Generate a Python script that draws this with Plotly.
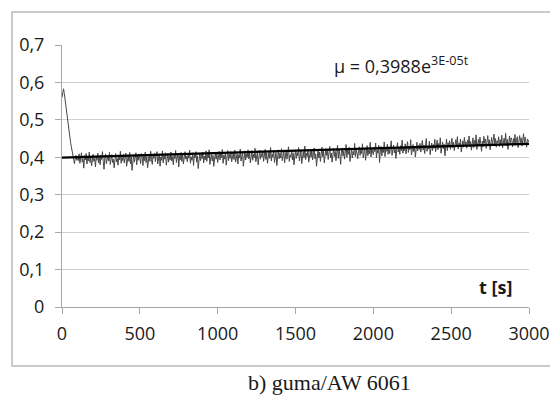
import plotly.graph_objects as go

# measured friction coefficient, one reading every 5 s (0 ... 3000 s)
t_step = 5
mu_values = [
    0.560, 0.578, 0.583, 0.570, 0.552, 0.535, 0.515, 0.500, 0.488, 0.472, 0.455, 0.440, 0.428, 0.415, 0.405, 0.392, 0.383, 0.398, 0.405, 0.392,
    0.402, 0.391, 0.409, 0.384, 0.398, 0.412, 0.387, 0.396, 0.371, 0.405, 0.393, 0.410, 0.382, 0.399, 0.390, 0.414, 0.386, 0.401, 0.377, 0.395,
    0.408, 0.389, 0.397, 0.374, 0.403, 0.392, 0.411, 0.385, 0.400, 0.380, 0.406, 0.394, 0.415, 0.388, 0.368, 0.398, 0.409, 0.383, 0.396, 0.404,
    0.390, 0.413, 0.381, 0.399, 0.407, 0.386, 0.395, 0.372, 0.402, 0.410, 0.388, 0.397, 0.379, 0.405, 0.393, 0.416, 0.384, 0.400, 0.391, 0.408,
    0.385, 0.398, 0.411, 0.376, 0.394, 0.404, 0.389, 0.413, 0.382, 0.401, 0.365, 0.396, 0.407, 0.387, 0.399, 0.412, 0.380, 0.403, 0.392, 0.409,
    0.396, 0.383, 0.410, 0.400, 0.378, 0.405, 0.391, 0.414, 0.386, 0.402, 0.372, 0.398, 0.408, 0.389, 0.416, 0.394, 0.381, 0.406, 0.397, 0.411,
    0.388, 0.403, 0.415, 0.382, 0.399, 0.409, 0.376, 0.401, 0.392, 0.417, 0.385, 0.405, 0.395, 0.412, 0.379, 0.400, 0.410, 0.387, 0.404, 0.393,
    0.414, 0.390, 0.402, 0.380, 0.408, 0.396, 0.418, 0.386, 0.399, 0.411, 0.374, 0.404, 0.393, 0.413, 0.389, 0.406, 0.382, 0.400, 0.415, 0.395,
    0.403, 0.388, 0.410, 0.397, 0.419, 0.384, 0.401, 0.392, 0.412, 0.378, 0.406, 0.398, 0.415, 0.387, 0.404, 0.370, 0.399, 0.411, 0.391, 0.408,
    0.396, 0.414, 0.385, 0.403, 0.393, 0.417, 0.389, 0.407, 0.398, 0.420, 0.381, 0.402, 0.411, 0.390, 0.405, 0.376, 0.400, 0.413, 0.395, 0.409,
    0.386, 0.404, 0.416, 0.393, 0.410, 0.399, 0.421, 0.384, 0.406, 0.395, 0.413, 0.379, 0.402, 0.418, 0.391, 0.408, 0.397, 0.415, 0.388, 0.405,
    0.412, 0.394, 0.419, 0.387, 0.403, 0.410, 0.382, 0.407, 0.398, 0.422, 0.390, 0.405, 0.414, 0.376, 0.401, 0.417, 0.393, 0.409, 0.400, 0.420,
    0.396, 0.411, 0.385, 0.404, 0.418, 0.392, 0.408, 0.399, 0.424, 0.388, 0.406, 0.414, 0.380, 0.402, 0.419, 0.395, 0.410, 0.401, 0.416, 0.389,
    0.407, 0.421, 0.394, 0.412, 0.384, 0.403, 0.417, 0.397, 0.426, 0.390, 0.409, 0.400, 0.418, 0.386, 0.405, 0.413, 0.378, 0.402, 0.420, 0.396,
    0.411, 0.398, 0.423, 0.391, 0.407, 0.416, 0.385, 0.404, 0.419, 0.395, 0.410, 0.428, 0.389, 0.406, 0.401, 0.417, 0.393, 0.412, 0.380, 0.408,
    0.420, 0.397, 0.413, 0.404, 0.426, 0.390, 0.409, 0.418, 0.383, 0.405, 0.415, 0.399, 0.430, 0.394, 0.411, 0.402, 0.422, 0.387, 0.408, 0.416,
    0.400, 0.419, 0.393, 0.412, 0.425, 0.396, 0.409, 0.376, 0.404, 0.421, 0.398, 0.414, 0.389, 0.407, 0.427, 0.401, 0.417, 0.385, 0.410, 0.423,
    0.405, 0.418, 0.394, 0.413, 0.429, 0.399, 0.411, 0.387, 0.408, 0.424, 0.402, 0.416, 0.391, 0.410, 0.432, 0.397, 0.420, 0.406, 0.381, 0.414,
    0.425, 0.403, 0.417, 0.395, 0.412, 0.434, 0.400, 0.419, 0.408, 0.427, 0.389, 0.414, 0.423, 0.398, 0.416, 0.406, 0.437, 0.402, 0.420, 0.411,
    0.396, 0.418, 0.428, 0.405, 0.421, 0.410, 0.436, 0.399, 0.415, 0.425, 0.392, 0.413, 0.431, 0.404, 0.419, 0.409, 0.440, 0.401, 0.423, 0.414,
    0.407, 0.426, 0.415, 0.438, 0.398, 0.420, 0.411, 0.432, 0.386, 0.417, 0.429, 0.404, 0.422, 0.413, 0.441, 0.402, 0.424, 0.416, 0.435, 0.408,
    0.428, 0.410, 0.422, 0.444, 0.405, 0.419, 0.433, 0.412, 0.426, 0.397, 0.421, 0.439, 0.414, 0.427, 0.408, 0.431, 0.417, 0.446, 0.411, 0.424,
    0.418, 0.436, 0.409, 0.425, 0.442, 0.413, 0.429, 0.420, 0.447, 0.406, 0.423, 0.434, 0.415, 0.430, 0.401, 0.427, 0.440, 0.417, 0.432, 0.421,
    0.437, 0.414, 0.428, 0.445, 0.419, 0.433, 0.410, 0.426, 0.450, 0.416, 0.431, 0.422, 0.443, 0.407, 0.429, 0.438, 0.418, 0.434, 0.424, 0.448,
    0.415, 0.432, 0.446, 0.420, 0.437, 0.426, 0.452, 0.411, 0.430, 0.441, 0.423, 0.435, 0.404, 0.428, 0.449, 0.418, 0.439, 0.427, 0.444, 0.421,
    0.436, 0.451, 0.425, 0.440, 0.418, 0.433, 0.447, 0.428, 0.455, 0.422, 0.438, 0.431, 0.449, 0.414, 0.435, 0.444, 0.427, 0.453, 0.432, 0.441,
    0.424, 0.446, 0.434, 0.457, 0.429, 0.442, 0.419, 0.437, 0.452, 0.426, 0.445, 0.433, 0.460, 0.421, 0.439, 0.448, 0.430, 0.454, 0.436, 0.416,
    0.443, 0.428, 0.456, 0.437, 0.449, 0.424, 0.441, 0.458, 0.432, 0.447, 0.420, 0.439, 0.453, 0.430, 0.446, 0.462, 0.435, 0.450, 0.427, 0.444,
    0.438, 0.455, 0.429, 0.447, 0.433, 0.459, 0.425, 0.442, 0.451, 0.436, 0.464, 0.431, 0.448, 0.421, 0.440, 0.457, 0.434, 0.452, 0.445, 0.428,
    0.450, 0.437, 0.461, 0.432, 0.446, 0.455, 0.426, 0.443, 0.458, 0.439, 0.452, 0.430, 0.448, 0.463, 0.436, 0.454, 0.441, 0.427, 0.449, 0.445,
    0.440,
]
t_values = [i * t_step for i in range(len(mu_values))]

# exponential trend line
trend_t = [0, 500, 1000, 1500, 2000, 2500, 3000]
trend_mu = [0.399, 0.405, 0.411, 0.417, 0.423, 0.430, 0.436]

y_ticks = [0, 0.1, 0.2, 0.3, 0.4, 0.5, 0.6, 0.7]
y_tick_labels = ["0", "0,1", "0,2", "0,3", "0,4", "0,5", "0,6", "0,7"]
x_ticks = [0, 500, 1000, 1500, 2000, 2500, 3000]
x_tick_labels = ["0", "500", "1000", "1500", "2000", "2500", "3000"]

FONT = "Open Sans"

fig = go.Figure()
fig.add_trace(go.Scatter(x=t_values, y=mu_values, mode="lines",
                         line=dict(color="#474747", width=1), showlegend=False))
fig.add_trace(go.Scatter(x=trend_t, y=trend_mu, mode="lines",
                         line=dict(color="#000000", width=2.2), showlegend=False))

fig.update_layout(
    width=550, height=396,
    margin=dict(l=62, r=21, t=45, b=89, autoexpand=False),
    paper_bgcolor="white", plot_bgcolor="white",
    font=dict(family=FONT, size=18, color="#1a1a1a"),
    showlegend=False,
)
fig.update_xaxes(
    range=[0, 3000], tickvals=x_ticks, ticktext=x_tick_labels, automargin=False,
    showgrid=False, zeroline=False, showline=True, linecolor="#a6a6a6", linewidth=1,
    ticks="outside", ticklen=6, tickcolor="#a6a6a6", ticklabelstandoff=4,
)
fig.update_yaxes(
    range=[0, 0.7], tickvals=y_ticks, ticktext=y_tick_labels, automargin=False,
    showgrid=True, gridcolor="#d0d0d0", gridwidth=1, zeroline=False,
    showline=True, linecolor="#a6a6a6", linewidth=1,
    ticks="outside", ticklen=6, tickcolor="#a6a6a6", ticklabelstandoff=7,
)

fig.add_shape(type="rect", xref="paper", yref="paper",
              x0=-0.107, x1=1.2, y0=-0.225, y1=1.126,
              line=dict(color="#cacaca", width=2), layer="below")

fig.add_annotation(xref="paper", yref="paper", x=0.578, y=0.924,
                   xanchor="left", yanchor="middle", showarrow=False,
                   text="μ = 0,3988e<sup>3E-05t</sup>",
                   font=dict(family=FONT, size=18, color="#1a1a1a"))
fig.add_annotation(xref="paper", yref="paper", x=0.929, y=0.076,
                   xanchor="center", yanchor="middle", showarrow=False,
                   text="<b>t [s]</b>",
                   font=dict(family=FONT, size=18, color="#1a1a1a"))
fig.add_annotation(xref="paper", yref="paper", x=0.572, y=-0.290,
                   xanchor="center", yanchor="middle", showarrow=False,
                   text="b) guma/AW 6061",
                   font=dict(family="Liberation Serif", size=22, color="#1a1a1a"))

fig.write_html("out.html", config={"displayModeBar": False},
               post_script="document.body.style.margin='0';document.body.style.overflow='hidden';")
